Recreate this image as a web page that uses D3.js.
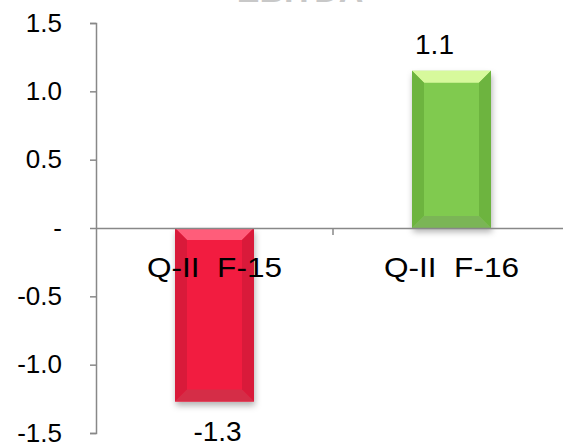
<!DOCTYPE html>
<html><head><meta charset="utf-8">
<script src="https://cdn.jsdelivr.net/npm/d3@7"></script>
<style>
html,body{margin:0;padding:0;background:#fff;overflow:hidden;}
svg{display:block;font-family:Arial,"Liberation Sans",sans-serif;}
</style></head><body>
<svg id="c" width="563" height="447"></svg>
<script>
const categories = ["Q-II  F-15", "Q-II  F-16"];
const values = [-1.27, 1.15];
const valueLabels = ["-1.3", "1.1"];
const tickValues = [1.5, 1.0, 0.5, 0, -0.5, -1.0, -1.5];
const tickLabels = ["1.5", "1.0", "0.5", "-", "-0.5", "-1.0", "-1.5"];
const titleText = "EBITDA";

const palette = [
  {main:"#F21E40", top:"#FF5D7A", side:"#D91A3A", bottom:"#D52D47"},
  {main:"#80CA50", top:"#D7F99C", side:"#6DB43F", bottom:"#7BB556"}
];

(function(){
const svg = d3.select("#c");
const mLeft = 96, mRight = 570, mTop = 23, mBottom = 433;

const y = d3.scaleLinear().domain([-1.5, 1.5]).range([mBottom, mTop]);
const x = d3.scaleBand().domain(categories).range([mLeft, mRight]).paddingInner(0).paddingOuter(0);
const barW = 79;

const defs = svg.append("defs");
const f = defs.append("filter").attr("id","sh").attr("x","-30%").attr("y","-30%").attr("width","160%").attr("height","160%");
f.append("feDropShadow").attr("dx",1).attr("dy",4).attr("stdDeviation",3).attr("flood-color","#000").attr("flood-opacity",0.3);

// title (mostly off canvas, as in the reference)
svg.append("text").attr("x", 300).attr("y", 2).attr("text-anchor","middle")
  .attr("font-size", 34).attr("font-weight","bold").attr("fill","#c8c8c8").text(titleText);

// y axis
const yAxis = d3.axisLeft(y).tickValues(tickValues).tickSize(6).tickSizeOuter(6)
  .tickFormat((d,i) => tickLabels[i]);
const ga = svg.append("g").attr("transform",`translate(${mLeft},0)`).call(yAxis);
ga.select(".domain").attr("stroke","#888").attr("stroke-width",1.5);
ga.selectAll(".tick line").attr("stroke","#888").attr("stroke-width",1.5);
ga.selectAll(".tick text").attr("font-size",26).attr("fill","#000")
  .attr("font-family","Arial,'Liberation Sans',sans-serif").attr("x",-34);

// bars
const bars = svg.append("g");
categories.forEach((c,i) => {
  const v = values[i];
  const cx = x(c) + x.bandwidth()/2;
  const x0 = cx - barW/2, x1 = cx + barW/2;
  const yT = y(Math.max(0,v)), yB = y(Math.min(0,v));
  const b = 12;
  const p = palette[i];
  const g = bars.append("g");
  g.append("rect").attr("x",x0).attr("y",yT).attr("width",barW).attr("height",yB-yT)
    .attr("fill",p.main).attr("filter","url(#sh)");
  const pts = a => a.map(q=>q.join(",")).join(" ");
  g.append("polygon").attr("points",pts([[x0,yT],[x1,yT],[x1-b,yT+b],[x0+b,yT+b]])).attr("fill",p.top);
  g.append("polygon").attr("points",pts([[x0,yT],[x0+b,yT+b],[x0+b,yB-b],[x0,yB]])).attr("fill",p.side);
  g.append("polygon").attr("points",pts([[x1,yT],[x1,yB],[x1-b,yB-b],[x1-b,yT+b]])).attr("fill",p.side);
  g.append("polygon").attr("points",pts([[x0,yB],[x0+b,yB-b],[x1-b,yB-b],[x1,yB]])).attr("fill",p.bottom);
  // value label
  const ly = v >= 0 ? y(v) - 17 : y(v) + 39;
  svg.append("text").attr("x",cx + (v>=0 ? -17 : 3)).attr("y",ly).attr("text-anchor","middle")
    .attr("font-size",28).attr("fill","#000").text(valueLabels[i]);
});

// zero line (category axis)
const xAxis = d3.axisBottom(x).tickSize(0).tickSizeOuter(0).tickFormat("");
const gx = svg.append("g").attr("transform",`translate(0,${y(0)})`).call(xAxis);
gx.select(".domain").attr("stroke","#888").attr("stroke-width",1.5);
gx.selectAll(".sep").data(categories.slice(1)).enter().append("line")
  .attr("x1",d=>x(d)).attr("x2",d=>x(d)).attr("y1",0).attr("y2",7)
  .attr("stroke","#888").attr("stroke-width",1.5);

// category labels
svg.append("g").selectAll("text").data(categories).enter().append("text")
  .attr("x",d=>x(d)+x.bandwidth()/2).attr("y",277).attr("text-anchor","middle")
  .attr("font-size",28).attr("fill","#000")
  .attr("textLength",135).attr("lengthAdjust","spacingAndGlyphs")
  .style("white-space","pre")
  .text(d=>d);
})();
</script>
</body></html>
